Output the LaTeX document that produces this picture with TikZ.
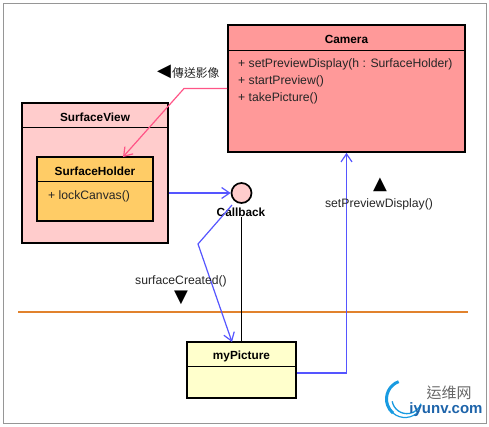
\documentclass[tikz,border=0pt]{standalone}
\usepackage{fontspec}
\setmainfont{Liberation Sans}
\newfontfamily\cjkfont{Noto Sans CJK TC}
\newfontfamily\symfont{DejaVu Sans}
\usepackage{tikz}
\usetikzlibrary{arrows.meta, positioning, calc}
\definecolor{camerared}{RGB}{255,153,153}
\definecolor{viewpink}{RGB}{255,204,204}
\definecolor{holderorange}{RGB}{255,204,102}
\definecolor{pictureyellow}{RGB}{255,255,204}
\definecolor{linkpink}{RGB}{255,85,135}
\definecolor{linkblue}{RGB}{85,85,255}
\definecolor{rulerorange}{RGB}{225,130,45}
\definecolor{framegray}{RGB}{150,150,150}
\definecolor{logocyan}{RGB}{25,155,225}
\definecolor{logoblue}{RGB}{30,100,170}

\begin{document}
\begin{tikzpicture}[
    x=1pt, y=-1pt,
    classbox/.style={draw=black, line width=1.7pt, inner sep=0pt},
    title/.style={font=\fontsize{11.8}{13}\selectfont\bfseries, inner sep=0pt},
    method/.style={font=\fontsize{12.2}{14}\selectfont, inner sep=0pt, anchor=west, text=black!85},
    note/.style={font=\fontsize{12.2}{14}\selectfont, inner sep=0pt, text=black!85},
    triangle/.style={font=\symfont\fontsize{18}{18}\selectfont, inner sep=0pt},
    bluelink/.style={draw=linkblue, line width=1.2pt, -{Straight Barb[length=8pt,width=11pt]}},
    pinklink/.style={draw=linkpink, line width=1.2pt, -{Straight Barb[length=8pt,width=11pt]}}
]
    \useasboundingbox (0,0) rectangle (489,426);
    \node[draw=framegray, line width=1pt, minimum width=483pt, minimum height=420pt, inner sep=0pt] (frame) at (244.5,213) {};

    % classes
    \node[classbox, fill=camerared, minimum width=237pt, minimum height=127pt] (camera) at (346.5,88.5) {};
    \node[title] (cameratitle) at (346.5,39) {Camera};
    \draw[line width=0.8pt] ($(camera.north west)+(0,26)$) -- ($(camera.north east)+(0,26)$);
    \node[method] (setdisplay) at (238,64.5) {+ setPreviewDisplay(h : SurfaceHolder)};
    \node[method] (startprev) at (238,81.5) {+ startPreview()};
    \node[method] (takepic) at (238,98) {+ takePicture()};

    \node[classbox, fill=viewpink, minimum width=146pt, minimum height=140pt] (surfaceview) at (95,173) {};
    \node[title] (viewtitle) at (95,117) {SurfaceView};
    \draw[line width=0.8pt] ($(surfaceview.north west)+(0,25)$) -- ($(surfaceview.north east)+(0,25)$);

    \node[classbox, fill=holderorange, minimum width=116pt, minimum height=64pt] (holder) at (95,189) {};
    \node[title] (holdertitle) at (95,171) {SurfaceHolder};
    \draw[line width=0.8pt] ($(holder.north west)+(0,25)$) -- ($(holder.north east)+(0,25)$);
    \node[method] (lockcanvas) at (48,196) {+ lockCanvas()};

    \node[classbox, fill=pictureyellow, minimum width=109pt, minimum height=56pt] (mypicture) at (241.5,370) {};
    \node[title] (picturetitle) at (241.5,356) {myPicture};
    \draw[line width=0.8pt] ($(mypicture.north west)+(0,25)$) -- ($(mypicture.north east)+(0,25)$);

    % interface
    \node[circle, draw=black, line width=1.7pt, fill=viewpink, minimum size=20pt, inner sep=0pt] (callback) at (241.5,193) {};
    \node[title] (callbacklabel) at (241,212) {Callback};

    % divider
    \coordinate (rulerleft) at (18,312);
    \coordinate (rulerright) at (468,312);
    \draw[rulerorange, line width=2.2pt] (rulerleft) -- (rulerright);

    % connectors
    \coordinate (pinkbend) at (184,88.5);
    \coordinate (holderin) at (123,157);
    \draw[pinklink] (camera.west) -- (pinkbend) -- (holderin);
    \draw[bluelink] (surfaceview.east |- callback) -- (callback.west);
    \coordinate (callbackout) at (232,205);
    \coordinate (bluebend) at (198,244);
    \coordinate (picturein) at (232,342);
    \draw[bluelink] (callbackout) -- (bluebend) -- (picturein);
    \draw[black, line width=0.8pt] (callbacklabel.south -| callback) -- (mypicture.north);
    \coordinate (bluecorner) at (346.5,373);
    \draw[bluelink] (mypicture.east |- bluecorner) -- (bluecorner) -- (camera.south);

    % labels
    \node[triangle] (leftmark) at (164,72) {◀};
    \node[font=\cjkfont\fontsize{11.8}{13}\selectfont, inner sep=0pt, anchor=west, text=black!85] (sendimage) at (172,73) {傳送影像};
    \node[note] (setlabel) at (379,204) {setPreviewDisplay()};
    \node[triangle] (upmark) at (380,185) {▲};
    \node[note] (createdlabel) at (181,281.5) {surfaceCreated()};
    \node[triangle] (downmark) at (181,297.5) {▼};

    % logo
    \draw[logocyan, line width=3pt] (405,399) ++(-110:18.5) arc[start angle=-110, end angle=-230, radius=18.5];
    \draw[logocyan, line width=1.2pt] (405,399) ++(-230:18.5) arc[start angle=-230, end angle=-320, radius=18.5];
    \draw[logocyan, line width=1.3pt] (405,399) ++(-190:13) arc[start angle=-190, end angle=-340, radius=15];
    \node[font=\cjkfont\fontsize{15}{15}\selectfont, inner sep=0pt, text=black!60] (logotext) at (449,393) {运维网};
    \node[font=\fontsize{15}{15}\selectfont\bfseries, inner sep=0pt, text=logoblue] (logourl) at (446,410) {iyunv.com};
\end{tikzpicture}
\end{document}
